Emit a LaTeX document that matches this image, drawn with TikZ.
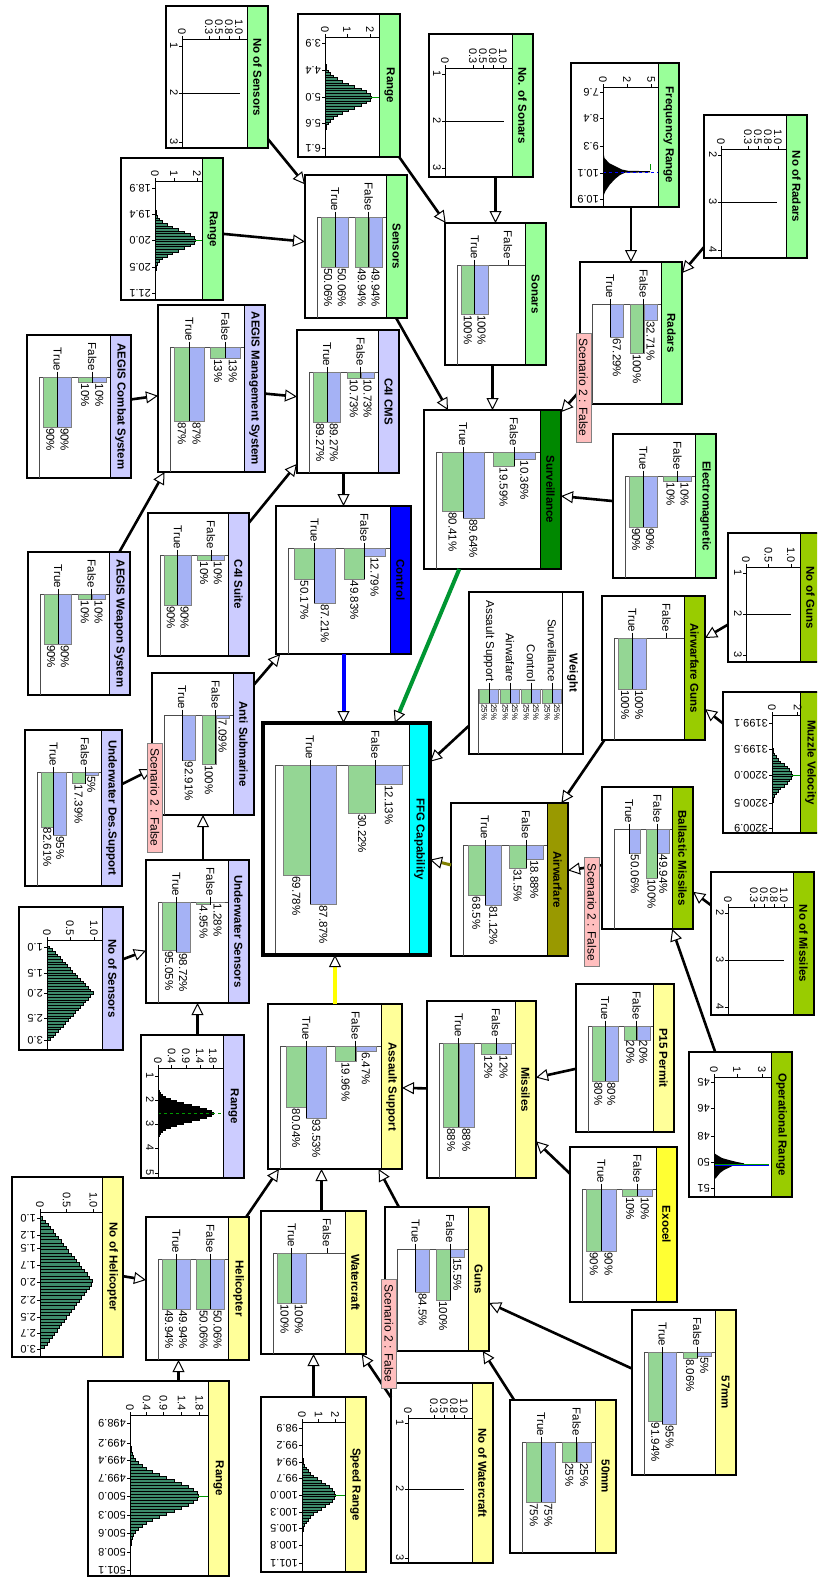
\documentclass[tikz,border=0pt]{standalone}
\usepackage{fontspec}
\setmainfont{Liberation Sans}
\usetikzlibrary{arrows.meta,calc}
\definecolor{hgreen}{RGB}{153,255,153}
\definecolor{hlav}{RGB}{204,204,255}
\definecolor{hdkgreen}{RGB}{0,136,0}
\definecolor{hblue}{RGB}{0,0,255}
\definecolor{hcyan}{RGB}{0,255,255}
\definecolor{holive}{RGB}{153,153,0}
\definecolor{hyg}{RGB}{153,204,0}
\definecolor{hly}{RGB}{255,255,153}
\definecolor{hby}{RGB}{255,255,51}
\definecolor{bargreen}{RGB}{148,214,148}
\definecolor{barblue}{RGB}{165,178,245}
\definecolor{histfill}{RGB}{62,140,108}
\definecolor{scenpink}{RGB}{255,190,190}
\definecolor{cgreen}{RGB}{0,150,50}
\definecolor{colive}{RGB}{128,128,0}
\definecolor{cyellow}{RGB}{255,255,0}
\tikzset{
  bnborder/.style={draw=black,line width=1.6pt,inner sep=0pt,outer sep=0pt},
  ttl/.style={font=\fontsize{11.5}{13}\selectfont\bfseries,inner sep=0pt},
  lbl/.style={font=\fontsize{11.5}{13}\selectfont,inner sep=0pt},
  tck/.style={font=\fontsize{11}{12}\selectfont,inner sep=0pt},
  smalllbl/.style={font=\fontsize{8}{9}\selectfont,inner sep=0pt},
  conn/.style={line width=2.6pt,-{Triangle[fill=white,color=black,line width=1pt,length=12pt,width=12pt]}},
  scen/.style={rotate=-90,fill=scenpink,draw=gray,line width=0.6pt,font=\fontsize{12}{13}\selectfont,minimum width=109pt,minimum height=15pt,inner sep=0pt},
  loc/.style={shift={(\bnX,\bnY)},rotate=-90,transform shape},
  frameln/.style={draw=gray!60!black,line width=0.6pt},
  spk/.style={line width=0.9pt},
  rotl/.style={rotate=-90,anchor=west},
  uprl/.style={anchor=north},
  meanln/.style={draw=green!60!black,line width=0.6pt}
}
\newcommand\bnnode[7]{%
  \pgfmathsetmacro\Lw{#5-#3}%
  \pgfmathsetmacro\Lh{#4-#2}%
  \xdef\bnX{#4}\xdef\bnY{#3}%
  \fill[white] (#2,#3) rectangle (#4,#5);
  \begin{scope}[loc]
    \fill[#6] (0,0) rectangle (\Lw,21);
    \draw[line width=0.8pt] (0,21) -- (\Lw,21);
    \node[ttl] at ({\Lw/2},10.5) {#7};
  \end{scope}
  \node[bnborder,minimum width={(#4-#2)*1pt},minimum height={(#5-#3)*1pt}] (#1) at ({(#2+#4)/2},{(#3+#5)/2}) {};
}
\newcommand\barrow[4]{%
  \pgfmathsetmacro\rT{21+0.05*\bnF+#1*0.49*\bnF}%
  \pgfmathsetmacro\rM{\rT+\bnBh}%
  \pgfmathsetmacro\rB{\rM+\bnBh}%
  \pgfmathsetmacro\lB{#2/\bnMx*\bnM}%
  \pgfmathsetmacro\lG{#3/\bnMx*\bnM}%
  \pgfmathsetmacro\lX{max(\lB,\lG)}%
  \node[lbl,anchor=east] at (36,\rM) {#4};
  \ifdim #2pt>0pt
    \filldraw[fill=barblue,draw=gray,line width=0.5pt] (42,\rT) rectangle (42+\lB,\rM);
    \node[lbl,anchor=west] at (43+\lB,\rT+0.5*\bnBh) {#2\%};
  \fi
  \ifdim #3pt>0pt
    \filldraw[fill=bargreen,draw=gray,line width=0.5pt] (42,\rM) rectangle (42+\lG,\rB);
    \node[lbl,anchor=west] at (43+\lG,\rM+0.5*\bnBh) {#3\%};
  \fi
  \draw[line width=0.6pt] (36.5,\rM) -- (42+\lX,\rM);
}
\newcommand\twostate[4]{%
  \pgfmathsetmacro\bnF{\Lh-33}%
  \pgfmathsetmacro\bnM{\Lw-93}%
  \pgfmathsetmacro\bnMx{max(#1,#2,#3,#4)}%
  \pgfmathsetmacro\bnBh{0.2*\bnF}%
  \begin{scope}[loc]
    \draw[frameln] (42,21) -- (42,21+\bnF) -- (\Lw,21+\bnF);
    \barrow{0}{#1}{#2}{False}
    \barrow{1}{#3}{#4}{True}
  \end{scope}}
\newcommand\haxes[5]{%
  \draw[line width=0.7pt] (#1,21) -- (#1,#2) -- (\Lw,#2);
  \foreach \vo/\vl in {#3}{%
    \draw[line width=0.6pt] (#1-3,#2-\vo) -- (#1,#2-\vo);
    \node[tck,anchor=east] at (#1-4,#2-\vo) {\vl};}
  \foreach \dpos/\dlab in {#4}{%
    \draw[line width=0.6pt] (\dpos,#2) -- (\dpos,#2+3);
    \node[tck,#5] at (\dpos,#2+4) {\dlab};}
}
% dv, center, sigma, H, n, barwidth, fill
\newcommand\gaussh[7]{%
  \foreach \k in {-#5,...,#5}{%
    \pgfmathsetmacro\hh{#4*exp(-((\k*#6)^2)/(2*#3*#3))}%
    \filldraw[fill=#7,draw=black,line width=0.3pt] ({#2+\k*#6-#6/2},#1) rectangle ({#2+\k*#6+#6/2},{#1-\hh});
  }}
% dv, u0, uc, u1, H, barwidth, fill
\newcommand\trih[7]{%
  \pgfmathtruncatemacro\nn{(#4-#2)/#6}%
  \foreach \k in {0,...,\nn}{%
    \pgfmathsetmacro\uu{#2+\k*#6}%
    \pgfmathsetmacro\hh{\uu<#3 ? #5*(\uu-#2+#6)/(#3-#2+#6) : #5*(#4-\uu+#6)/(#4-#3+#6)}%
    \filldraw[fill=#7,draw=black,line width=0.3pt] ({\uu-#6/2},#1) rectangle ({\uu+#6/2},{#1-\hh});
  }}
\begin{document}
\begin{tikzpicture}[x=1pt,y=-1pt]
\useasboundingbox (0,0) rectangle (817,1585);
\fill[white] (0,0) rectangle (817,1585);
\begin{scope}
\clip (0,0) rectangle (817,1585);
% ---------------- green group
\bnnode{nsens}{166}{6}{268}{148}{hgreen}{No of Sensors}
\begin{scope}[loc]
  \draw[spk] (87,86) -- (87,28);
  \haxes{33}{86}{0/0,27/0.3,37/0.5,47/0.8,57/1.0}{40/1,87/2,136/3}{uprl}
\end{scope}
\bnnode{range1}{121}{158}{223}{300}{hgreen}{Range}
\begin{scope}[loc]
  \gaussh{68}{82}{10}{40}{14}{2.6}{histfill}
  \draw[meanln] (82,28) -- (82,21);
  \haxes{23}{68}{0/0,19/1,42/2}{30/18.9,56/19.4,82/20.0,109/20.5,135/21.1}{rotl}
\end{scope}
\bnnode{range2}{298}{14}{400}{157}{hgreen}{Range}
\begin{scope}[loc]
  \gaussh{75}{83}{11}{46}{15}{2.6}{histfill}
  \draw[meanln] (83,29) -- (83,21);
  \haxes{23}{75}{0/0,22/1,45/2}{29/3.9,56/4.4,83/5.0,109/5.6,134/6.1}{rotl}
\end{scope}
\bnnode{nsonars}{429}{34}{533}{177}{hgreen}{No. of Sonars}
\begin{scope}[loc]
  \draw[spk] (87,88) -- (87,29);
  \haxes{34}{88}{0/0,28/0.3,38/0.5,48/0.8,58/1.0}{40/1,87/2,134/3}{uprl}
\end{scope}
\bnnode{freq}{571}{63}{679}{207}{hgreen}{Frequency Range}
\begin{scope}[loc]
  \fill[black] (87,76) -- (95,74.5) -- (100,70) -- (104,62) -- (106.5,57) -- (107.8,51) -- (108.2,29) -- (109.3,29) -- (109.7,54) -- (112,59) -- (116,64) -- (122,69.5) -- (128,73.5) -- (134,76) -- cycle;
  \draw[blue,dashed,line width=0.6pt] (109.7,76) -- (109.7,21);
  \draw[meanln] (101,29) -- (107,29);
  \haxes{24}{76}{0/0,24/2,48/5}{29/7.6,55/8.4,83/9.3,110/10.1,136/10.9}{rotl}
\end{scope}
\bnnode{nradars}{704}{115}{807}{258}{hgreen}{No of Radars}
\begin{scope}[loc]
  \draw[spk] (87,86) -- (87,30);
  \haxes{34}{86}{0/0,27/0.3,37/0.5,47/0.8,57/1.0}{40/2,87/3,135/4}{uprl}
\end{scope}
\bnnode{sensors}{305}{175}{407}{318}{hgreen}{Sensors}
\twostate{49.94}{49.94}{50.06}{50.06}
\bnnode{sonars}{445}{223}{546}{365}{hgreen}{Sonars}
\twostate{0}{0}{100}{100}
\bnnode{radars}{580}{262}{682}{404}{hgreen}{Radars}
\twostate{32.71}{100}{67.29}{0}
\bnnode{electro}{613}{434}{716}{578}{hgreen}{Electromagnetic}
\twostate{10}{10}{90}{90}
% ---------------- lavender group
\bnnode{aegism}{158}{305}{265}{472}{hlav}{AEGIS Management System}
\twostate{13}{13}{87}{87}
\bnnode{aegisc}{27}{335}{131}{478}{hlav}{AEGIS Combat System}
\twostate{10}{10}{90}{90}
\bnnode{c4icms}{297}{330}{399}{473}{hlav}{C4I CMS}
\twostate{10.73}{10.73}{89.27}{89.27}
\bnnode{c4isuite}{148}{513}{249}{656}{hlav}{C4I Suite}
\twostate{10}{10}{90}{90}
\bnnode{aegisw}{28}{552}{130}{695}{hlav}{AEGIS Weapon System}
\twostate{10}{10}{90}{90}
\bnnode{antisub}{152}{673}{254}{815}{hlav}{Anti Submarine}
\twostate{7.09}{100}{92.91}{0}
\bnnode{uds}{25}{730}{122}{886}{hlav}{Underwater Des.Support}
\twostate{5}{17.39}{95}{82.61}
\bnnode{usens}{146}{860}{249}{1003}{hlav}{Underwater Sensors}
\twostate{1.28}{4.95}{98.72}{95.05}
\bnnode{nsens2}{19}{907}{123}{1050}{hlav}{No of Sensors}
\begin{scope}[loc]
  \trih{76}{40}{86}{133}{46}{2.7}{histfill}
  \haxes{33}{76}{0/0,23/0.5,47/1.0}{40/1.0,66/1.5,86/2.0,111/2.5,133/3.0}{rotl}
\end{scope}
\bnnode{range3}{141}{1035}{244}{1178}{hlav}{Range}
\begin{scope}[loc]
  \gaussh{86}{78}{8}{55}{14}{2}{black}
  \draw[meanln,dashed] (78,86) -- (78,21);
  \haxes{33}{86}{0/0,13.7/0.4,28/0.9,42/1.4,55/1.8}{41/1,65/2,89/3,113/4,138/5}{uprl}
\end{scope}
% ---------------- centre
\bnnode{surv}{424}{410}{561}{569}{hdkgreen}{Surveillance}
\twostate{10.36}{19.59}{89.64}{80.41}
\bnnode{control}{276}{506}{411}{654}{hblue}{Control}
\twostate{12.79}{49.83}{87.21}{50.17}
\bnnode{weight}{469}{592}{583}{754}{white}{Weight}
\begin{scope}[loc]
  \draw[frameln] (97,21) -- (97,104.5) -- (\Lw,104.5);
  \foreach \r/\wl in {0/Surveillance,1/Control,2/Airwafare,3/Assault Support}{%
    \pgfmathsetmacro\rT{21.5+21*\r}%
    \filldraw[fill=barblue,draw=gray,line width=0.5pt] (97,\rT) rectangle (111,\rT+9.5);
    \filldraw[fill=bargreen,draw=gray,line width=0.5pt] (97,\rT+9.5) rectangle (111,\rT+19);
    \draw[line width=0.6pt] (90.5,\rT+9.5) -- (111,\rT+9.5);
    \node[lbl,anchor=east] at (90,\rT+9.5) {\wl};
    \node[smalllbl,anchor=west] at (112,\rT+4.75) {25\%};
    \node[smalllbl,anchor=west] at (112,\rT+14.25) {25\%};
  }
\end{scope}
\bnnode{ffg}{263}{723}{430}{955}{hcyan}{FFG Capability}
\twostate{12.13}{30.22}{87.87}{69.78}
\draw[line width=4pt] (ffg.south west) rectangle (ffg.north east);
% ---------------- airwarfare group
\bnnode{airgun}{602}{596}{705}{740}{hyg}{Airwarfare Guns}
\twostate{0}{0}{100}{100}
\bnnode{nguns}{728}{533}{821}{662}{hyg}{No of Guns}
\begin{scope}[loc]
  \draw[spk] (81,75) -- (81,30);
  \haxes{34}{75}{0/0,22.5/0.5,45/1.0}{40/1,81/2,122/3}{uprl}
\end{scope}
\bnnode{muzzle}{723}{692}{821}{833}{hyg}{Muzzle Velocity}
\begin{scope}[loc]
  \gaussh{49}{83}{10}{20}{14}{2.6}{histfill}
  \draw[meanln] (83,29) -- (83,21);
  \haxes{23}{49}{0/0,25.6/2}{31/3199.1,57/3199.5,83/3200.0,111/3200.5,136/3200.9}{rotl}
\end{scope}
\bnnode{air}{451}{803}{568}{956}{holive}{Airwarfare}
\twostate{18.88}{31.5}{81.12}{68.5}
\bnnode{ballm}{602}{787}{693}{929}{hyg}{Ballastic Missiles}
\twostate{49.94}{100}{50.06}{0}
\bnnode{nmiss}{711}{872}{814}{1015}{hyg}{No of Missiles}
\begin{scope}[loc]
  \draw[spk] (88,86) -- (88,30);
  \haxes{35}{86}{0/0,26/0.3,36/0.5,46/0.8,56/1.0}{41/2,88/3,135/4}{uprl}
\end{scope}
\bnnode{opr}{689}{1052}{792}{1197}{hyg}{Operational Range}
\begin{scope}[loc]
  \fill[black] (101,78) -- (103,75) -- (106,70) -- (108,63) -- (110,55) -- (111.3,48) -- (112.3,48) -- (113,58) -- (114.7,61) -- (118,68) -- (121,72) -- (124.7,75) -- (128,78) -- cycle;
  \draw[meanln] (112,78) -- (112,23);
  \draw[blue,line width=0.6pt] (113,78) -- (113,23);
  \haxes{25}{78}{0/0,23/1,48/3}{30/45,56/46,84/48,110/50,136/51}{rotl}
\end{scope}
% ---------------- assault support group
\bnnode{assault}{268}{1004}{402}{1169}{hly}{Assault Support}
\twostate{6.47}{19.96}{93.53}{80.04}
\bnnode{missiles}{427}{1001}{536}{1178}{hly}{Missiles}
\twostate{12}{12}{88}{88}
\bnnode{p15}{576}{984}{674}{1132}{hly}{P15 Permit}
\twostate{20}{20}{80}{80}
\bnnode{exocel}{570}{1147}{677}{1302}{hby}{Exocel}
\twostate{10}{10}{90}{90}
\bnnode{heli}{146}{1217}{249}{1360}{hly}{Helicopter}
\twostate{50.06}{50.06}{49.94}{49.94}
\bnnode{nheli}{12}{1177}{123}{1357}{hly}{No of Helicopter}
\begin{scope}[loc]
  \trih{83}{41}{105}{172}{53}{3.3}{histfill}
  \haxes{35}{83}{0/0,26.7/0.5,53.3/1.0}{41/1.0,58/1.2,71/1.5,88/1.7,105/2.0,123/2.2,140/2.5,156/2.7,172/3.0}{rotl}
\end{scope}
\bnnode{range4}{88}{1381}{229}{1576}{hly}{Range}
\begin{scope}[loc]
  \gaussh{99}{115}{16}{68}{18}{3}{histfill}
  \draw[meanln] (115,31) -- (115,21);
  \haxes{34}{99}{0/0,16.7/0.4,33.3/0.9,51.7/1.4,69.3/1.8}{42/498.9,62/499.2,79/499.4,97/499.7,115/500.0,134/500.3,152/500.6,171/500.8,189/501.1}{rotl}
\end{scope}
\bnnode{water}{261}{1211}{366}{1354}{hly}{Watercraft}
\twostate{0}{0}{100}{100}
\bnnode{guns}{385}{1207}{489}{1351}{hly}{Guns}
\twostate{15.5}{100}{84.5}{0}
\bnnode{speed}{261}{1397}{366}{1572}{hly}{Speed Range}
\begin{scope}[loc]
  \gaussh{64}{98}{13}{33}{15}{2.7}{histfill}
  \draw[meanln] (98,31) -- (98,21);
  \haxes{25}{64}{0/0,16.7/1,33.3/2}{31/98.9,48/99.2,65/99.4,81/99.7,98/100.0,115/100.3,131/100.5,148/100.8,166/101.1}{rotl}
\end{scope}
\bnnode{nwater}{391}{1383}{493}{1563}{hly}{No of Watercraft}
\begin{scope}[loc]
  \draw[spk] (106,85) -- (106,29);
  \haxes{35}{85}{0/0,26/0.3,36/0.5,46/0.8,56/1.0}{40/1,106/2,175/3}{uprl}
\end{scope}
\bnnode{mmA}{632}{1310}{736}{1475}{hly}{57mm}
\twostate{5}{8.06}{95}{91.94}
\bnnode{mmB}{510}{1400}{616}{1553}{hly}{50mm}
\twostate{25}{25}{75}{75}
% ---------------- connectors
\draw[conn] (nsens) -- (sensors);
\draw[conn] (range1) -- (sensors);
\draw[conn] (range2) -- (sonars);
\draw[conn] (nsonars.south -| sonars.north) -- (sonars.north);
\draw[conn] (freq.south -| radars.north) -- (radars.north);
\draw[conn] (nradars) -- (radars);
\draw[conn] (sonars.south -| surv.north) -- (surv.north);
\draw[conn] (sensors) -- (surv);
\draw[conn] (radars) -- (surv);
\draw[conn] (electro) -- (surv);
\draw[conn] (aegisc) -- (aegism);
\draw[conn] (aegisw) -- (aegism);
\draw[conn] (aegism) -- (c4icms);
\draw[conn] (c4isuite) -- (c4icms);
\draw[conn] (c4icms.south -| control.north) -- (control.north);
\draw[conn] (antisub) -- (control);
\draw[conn] (uds) -- (antisub);
\draw[conn] (usens.north -| antisub.south) -- (antisub.south);
\draw[conn] (nsens2) -- (usens);
\draw[conn] (range3.north -| usens.south) -- (usens.south);
\draw[conn] (weight) -- (ffg);
\draw[conn,draw=cgreen,line width=4pt] (surv) -- (ffg);
\draw[conn,draw=blue,line width=4pt] (control.south) -- (control.south |- ffg.north);
\draw[conn,draw=colive,line width=3pt] (air) -- (ffg);
\draw[conn,draw=cyellow,line width=4pt] (assault.north) -- (assault.north |- ffg.south);
\draw[conn] (airgun) -- (air);
\draw[conn] (ballm) -- (air);
\draw[conn] (nguns) -- (airgun);
\draw[conn] (muzzle) -- (airgun);
\draw[conn] (nmiss) -- (ballm);
\draw[conn] (opr) -- (ballm);
\draw[conn] (missiles) -- (assault);
\draw[conn] (p15) -- (missiles);
\draw[conn] (exocel) -- (missiles);
\draw[conn] (heli) -- (assault);
\draw[conn] ([xshift=8pt]water.north) -- ([xshift=8pt]water.north |- assault.south);
\draw[conn] (guns) -- (assault);
\draw[conn] (nheli) -- (heli);
\draw[conn] ([xshift=20pt]range4.north) -- ([xshift=20pt]range4.north |- heli.south);
\draw[conn] (speed.north) -- (speed.north |- water.south);
\draw[conn] (nwater) -- (water);
\draw[conn] (mmA) -- (guns);
\draw[conn] (mmB) -- (guns);
% ---------------- scenario labels
\node[scen] (scA) at (583.5,387.5) {Scenario 2 : False};
\node[scen] (scB) at (155,797.5) {Scenario 2 : False};
\node[scen] (scC) at (592,912) {Scenario 2 : False};
\node[scen] (scD) at (389,1333.5) {Scenario 2 : False};
\end{scope}
\end{tikzpicture}
\end{document}
